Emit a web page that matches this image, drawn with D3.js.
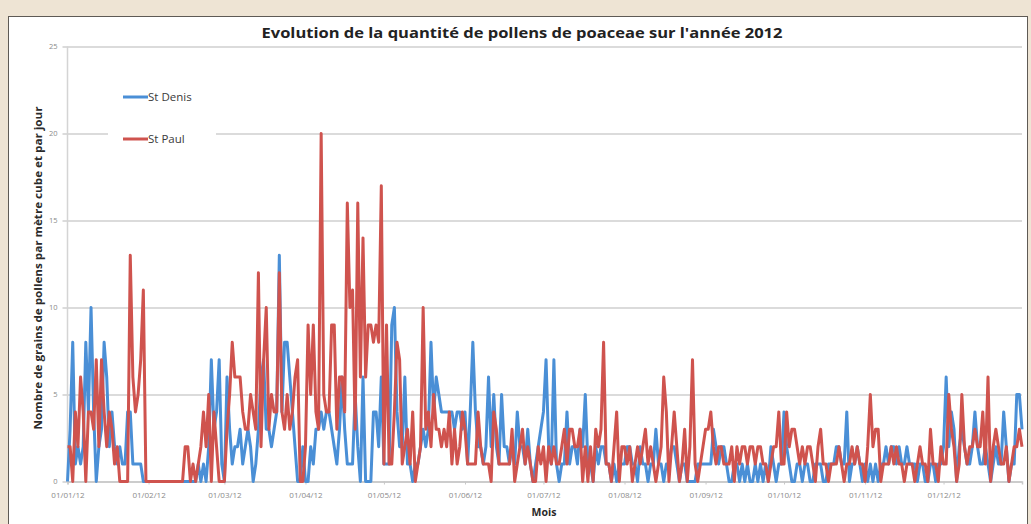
<!DOCTYPE html>
<html>
<head>
<meta charset="utf-8">
<script src="https://cdn.jsdelivr.net/npm/d3@7/dist/d3.min.js"></script>
<style>
  html, body { margin: 0; padding: 0; background: #eee4d4; }
  svg { display: block; }
</style>
</head>
<body>
<svg id="chart" width="1031" height="524"></svg>
<script>
// Daily grass (poaceae) pollen counts, grains per m³ per day, 2012 (366 days)
const monthTicks = ["01/01/12","01/02/12","01/03/12","01/04/12","01/05/12","01/06/12",
                    "01/07/12","01/08/12","01/09/12","01/10/12","01/11/12","01/12/12"];
const yTicks = [0, 5, 10, 15, 20, 25];
const seriesNames = ["St Denis", "St Paul"];

const stDenis = [
  // janvier
  0,3,8,1,2,1,2,8,4,10, 4,0,2,3,8,6,2,4,2,1, 2,1,1,4,4,1,1,1,1,0, 0,
  // février
  0,0,0,0,0,0,0,0,0,0, 0,0,0,0,0,0,0,0,0, 1,0,1,0,2,7,3,4,7,1,
  // mars
  0,6,3,1,2,2,3,1,2,3, 2,0,1,3,6,7,3,3,2,3, 4,13,4,8,8,6,4,2,0,0, 2,
  // avril
  0,0,2,1,3,3,4,3,4,4, 3,2,1,3,6,3,1,1,1,5, 2,0,6,0,0,0,4,4,2,6,
  // mai
  1,1,1,9,10,4,2,2,6,1, 1,0,1,1,2,3,2,3,8,4, 6,5,4,4,4,4,4,3,4,4, 3,
  // juin
  4,1,4,8,4,2,2,1,2,6, 2,5,2,1,5,2,2,1,2,1, 4,2,2,1,3,1,0,1,2,3,
  // juillet
  4,7,2,1,7,1,0,1,1,4, 1,2,2,1,3,2,5,1,1,0, 2,1,2,2,1,1,0,1,0,1, 1,
  // août
  1,2,2,1,1,0,2,1,1,0, 1,1,3,1,1,0,1,1,2,2, 1,0,1,1,0,0,0,0,1,1, 1,
  // septembre
  1,1,1,3,2,1,2,2,1,0, 0,1,1,0,1,0,1,0,0,1, 0,1,0,1,0,2,1,0,1,1,
  // octobre
  4,2,1,0,0,1,1,0,1,1, 0,0,1,1,1,0,0,1,1,1, 2,2,1,1,4,0,1,1,2,1, 0,
  // novembre
  1,0,1,0,1,0,1,1,2,1, 2,2,1,2,1,1,2,1,1,1, 0,1,1,0,0,1,1,0,1,1,
  // décembre
  2,6,2,4,3,0,2,3,2,1, 1,2,4,2,1,1,2,1,0,1, 2,1,1,4,2,0,1,1,5,5, 3
];

const stPaul = [
  // janvier
  2,2,0,4,2,6,4,0,4,4, 3,7,2,7,4,2,4,3,1,2, 0,0,0,0,13,6,4,5,7,11, 0,
  // février
  0,0,0,0,0,0,0,0,0,0, 0,0,0,0, 2,2,0,1,0,1,2,4,2,5,0,4,2,0,0,
  // mars
  0,3,5,8,6,6,6,4,3,3, 5,4,3,12,2,7,10,3,5,4, 4,12,4,3,5,3,4,6,7,0, 0,
  // avril
  2,9,5,9,4,3,20,5,4,4, 9,9,3,6,6,4,16,10,11,3, 16,6,14,6,9,9,8,9,8,17,
  // mai
  1,9,1,1,4,8,7,1,2,3, 1,4,0,1,2,10,3,4,2,5, 3,3,2,3,2,4,1,3,1,2, 4,
  // juin
  3,1,1,1,1,4,2,1,1,1, 0,4,3,1,1,1,1,1,3,0, 1,2,3,1,2,1,0,0,2,1,
  // juillet
  2,0,2,1,2,1,1,2,3,1, 3,3,2,2,3,0,2,0,2,0, 3,2,3,8,1,1,0,2,4,0, 2,
  // août
  2,1,2,0,1,2,1,2,3,1, 2,1,0,1,2,6,4,0,2,4, 2,0,1,3,0,2,7,1,0,1, 2,
  // septembre
  3,3,4,2,1,2,2,1,1,1, 2,0,2,1,2,2,1,2,2,1, 2,2,1,1,0,1,2,2,4,1,
  // octobre
  1,4,2,3,3,2,1,2,1,2, 2,1,0,2,3,1,1,0,1,1, 1,2,1,0,1,1,2,1,2,1, 1,
  // novembre
  0,2,5,2,3,3,0,1,1,1, 2,1,2,1,1,0,1,1,1,0, 1,2,1,1,0,3,1,1,0,2,
  // décembre
  1,1,5,3,2,0,1,5,2,1, 2,2,3,2,2,4,1,6,0,2, 3,2,1,1,2,0,1,2,2,3, 2
];

const colors = { "St Denis": "#4a8fd6", "St Paul": "#cf534e" };

const svg = d3.select("#chart");
const W = 1031, H = 524;

// Outer page and white chart card
svg.append("rect").attr("width", W).attr("height", H).attr("fill", "#eee4d4");
svg.append("rect")
  .attr("x", 8.5).attr("y", 16.5).attr("width", 1019).attr("height", 530)
  .attr("fill", "#ffffff").attr("stroke", "#5e5a55").attr("stroke-width", 1);

const plot = { left: 67.5, right: 1022, top: 46.5, bottom: 481.5 };

const parseTick = d3.timeParse("%d/%m/%y");
const startDay = new Date(2012, 0, 1);
const days = d3.timeDay.range(startDay, new Date(2013, 0, 1));

const x = d3.scaleTime()
  .domain([days[0], days[days.length - 1]])
  .range([plot.left, plot.right]);
const y = d3.scaleLinear().domain([0, 25]).range([plot.bottom, plot.top]);

// Horizontal gridlines with y tick labels
const yAxis = d3.axisLeft(y)
  .tickValues(yTicks)
  .tickSize(-(plot.right - plot.left) - 5)
  .tickPadding(10)
  .tickFormat(d3.format("d"));
const gy = svg.append("g")
  .attr("transform", `translate(${plot.left + 0},0)`)
  .call(yAxis);
gy.select(".domain").remove();
gy.selectAll(".tick line")
  .attr("x1", -5)
  .attr("x2", plot.right - plot.left)
  .attr("stroke", "#cfcfcf").attr("stroke-width", 1.5);
gy.selectAll(".tick text")
  .attr("fill", "#8a8a8a").attr("font-size", 7.5)
  .attr("font-family", "Open Sans, sans-serif");

// Left axis line
svg.append("line")
  .attr("x1", plot.left).attr("x2", plot.left)
  .attr("y1", plot.top).attr("y2", plot.bottom)
  .attr("stroke", "#d4d4d4").attr("stroke-width", 1.5);

// Bottom date axis
const xAxis = d3.axisBottom(x)
  .tickValues(monthTicks.map(parseTick))
  .tickFormat(d3.timeFormat("%d/%m/%y"))
  .tickSize(3)
  .tickPadding(8);
const gx = svg.append("g")
  .attr("transform", `translate(0,${plot.bottom})`)
  .call(xAxis);
gx.select(".domain")
  .attr("stroke", "#c8c8c8").attr("stroke-width", 1.5);
gx.selectAll(".tick line").attr("stroke", "#c8c8c8");
gx.selectAll(".tick text")
  .attr("fill", "#8a8a8a").attr("font-size", 8)
  .attr("font-family", "Open Sans, sans-serif");

// Legend background (hides the gridline behind it)
const legend = svg.append("g");
legend.append("rect")
  .attr("x", 108).attr("y", 80).attr("width", 108).attr("height", 74)
  .attr("fill", "#ffffff");

// Data lines
const line = d3.line()
  .x((d, i) => x(days[i]))
  .y(d => y(d));

const seriesData = { "St Denis": stDenis, "St Paul": stPaul };
seriesNames.forEach(name => {
  svg.append("path")
    .datum(seriesData[name])
    .attr("fill", "none")
    .attr("stroke", colors[name])
    .attr("stroke-width", 3)
    .attr("stroke-linejoin", "round")
    .attr("d", line);
});

// Legend entries
seriesNames.forEach((name, i) => {
  const ly = 97 + i * 42;
  legend.append("line")
    .attr("x1", 123).attr("x2", 148)
    .attr("y1", ly).attr("y2", ly)
    .attr("stroke", colors[name]).attr("stroke-width", 3);
  legend.append("text")
    .attr("x", 148).attr("y", ly + 4)
    .attr("font-family", "Open Sans, sans-serif")
    .attr("font-size", 11.5)
    .attr("fill", "#3a3a3a")
    .text(name);
});

// Title
svg.append("text")
  .attr("x", 522).attr("y", 38)
  .attr("text-anchor", "middle")
  .attr("font-family", "Open Sans, sans-serif")
  .attr("font-weight", "bold")
  .attr("font-size", 15)
  .attr("fill", "#222")
  .attr("textLength", 521)
  .attr("lengthAdjust", "spacingAndGlyphs")
  .text("Evolution de la quantité de pollens de poaceae sur l'année 2012");

// Y axis title
svg.append("text")
  .attr("transform", "translate(42,268) rotate(-90)")
  .attr("text-anchor", "middle")
  .attr("font-family", "Open Sans, sans-serif")
  .attr("font-weight", "bold")
  .attr("font-size", 10.5)
  .attr("fill", "#2a2a2a")
  .attr("textLength", 323)
  .attr("lengthAdjust", "spacingAndGlyphs")
  .text("Nombre de grains de pollens par mètre cube et par jour");

// X axis title
svg.append("text")
  .attr("x", 544).attr("y", 516)
  .attr("text-anchor", "middle")
  .attr("font-family", "Open Sans, sans-serif")
  .attr("font-weight", "bold")
  .attr("font-size", 10.5)
  .attr("fill", "#2a2a2a")
  .text("Mois");
</script>
</body>
</html>
